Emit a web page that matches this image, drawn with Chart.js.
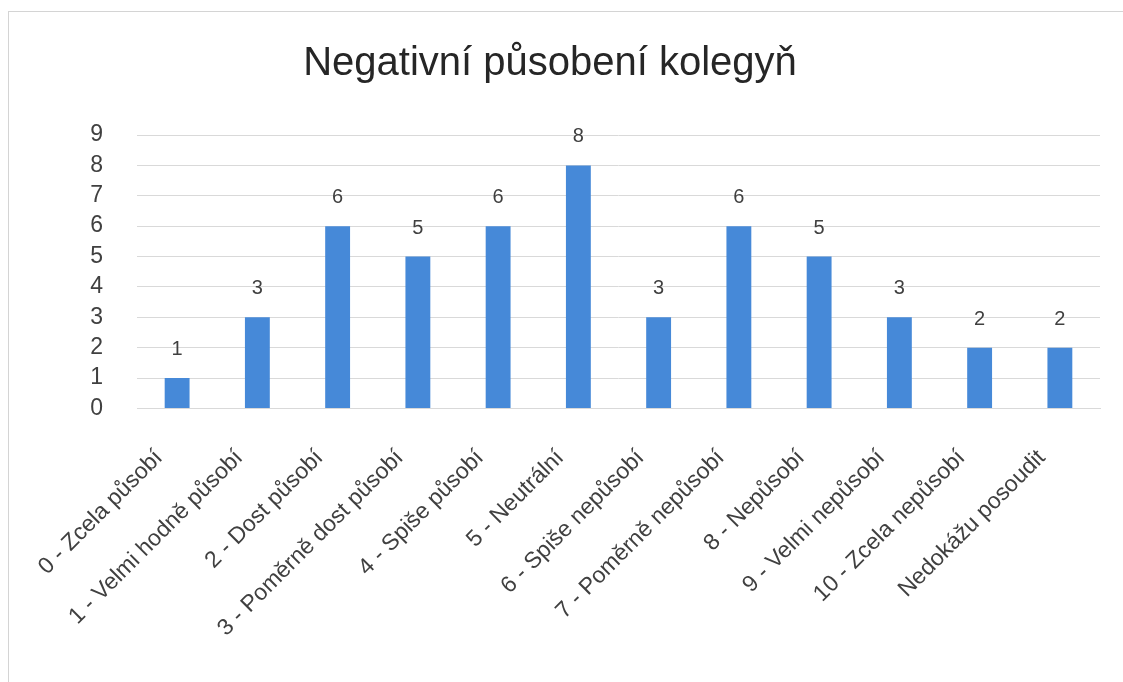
<!DOCTYPE html>
<html lang="cs">
<head>
  <meta charset="UTF-8">
  <title>Negativní působení kolegyň</title>
  <script src="https://cdn.jsdelivr.net/npm/chart.js"></script>
  <style>
    html, body { margin: 0; padding: 0; background: #fff; overflow: hidden; }
    #frame { position: absolute; left: 8px; top: 11px; width: 1115px; height: 671px;
             border-left: 1px solid #d4d4d4; border-top: 1px solid #d4d4d4; box-sizing: border-box; }
    #wrap { position: absolute; left: 0; top: 0; width: 1123px; height: 682px; }
  </style>
</head>
<body>
  <div id="frame"></div>
  <div id="wrap"><canvas id="chart" width="1123" height="682"></canvas></div>

  <script>
    // kategorie na ose X
    const categories = [
      '0 - Zcela působí', '1 - Velmi hodně působí', '2 - Dost působí',
      '3 - Poměrně dost působí', '4 - Spiše působí', '5 - Neutrální',
      '6 - Spiše nepůsobí', '7 - Poměrně nepůsobí', '8 - Nepůsobí',
      '9 - Velmi nepůsobí', '10 - Zcela nepůsobí', 'Nedokážu posoudit'
    ];
    // počty odpovědí
    const counts = [1, 3, 6, 5, 6, 8, 3, 6, 5, 3, 2, 2];
    const yTicks = [0, 1, 2, 3, 4, 5, 6, 7, 8, 9];

    const FONT = '"Liberation Sans", Arial, sans-serif';

    // popisky hodnot nad sloupci
    const valueLabels = {
      id: 'valueLabels',
      afterDatasetsDraw(chart) {
        const ctx = chart.ctx;
        ctx.save();
        ctx.font = '20px ' + FONT;
        ctx.fillStyle = '#404040';
        ctx.textAlign = 'center';
        ctx.textBaseline = 'alphabetic';
        chart.getDatasetMeta(0).data.forEach((bar, i) => {
          ctx.fillText(counts[i], bar.x, bar.y - 23);
        });
        ctx.restore();
      }
    };

    new Chart(document.getElementById('chart'), {
      type: 'bar',
      data: {
        labels: categories,
        datasets: [{
          data: counts,
          backgroundColor: '#4689d8',
          barPercentage: 0.31,
          categoryPercentage: 1
        }]
      },
      options: {
        responsive: false,
        animation: false,
        layout: { padding: { top: 14, left: 0, right: 23, bottom: 4 } },
        plugins: {
          legend: { display: false },
          tooltip: { enabled: false },
          title: {
            display: true,
            text: 'Negativní působení kolegyň',
            color: '#262626',
            font: { family: FONT, size: 40, weight: 'normal' },
            padding: { top: 26, bottom: 47 }
          }
        },
        scales: {
          x: {
            grid: { display: false, drawTicks: false },
            border: { color: '#d9d9d9' },
            ticks: {
              color: '#404040',
              font: { family: FONT, size: 23 },
              maxRotation: 45,
              minRotation: 45,
              autoSkip: false,
              padding: 36,
              labelOffset: -18
            }
          },
          y: {
            min: 0,
            max: 9,
            afterBuildTicks: (axis) => { axis.ticks = yTicks.map(v => ({ value: v })); },
            afterFit: (axis) => { axis.width = 137; },
            grid: { color: '#d9d9d9', drawTicks: false },
            border: { display: false },
            ticks: {
              color: '#404040',
              font: { family: FONT, size: 23 },
              autoSkip: false,
              padding: 34
            }
          }
        }
      },
      plugins: [valueLabels]
    });
  </script>
</body>
</html>
